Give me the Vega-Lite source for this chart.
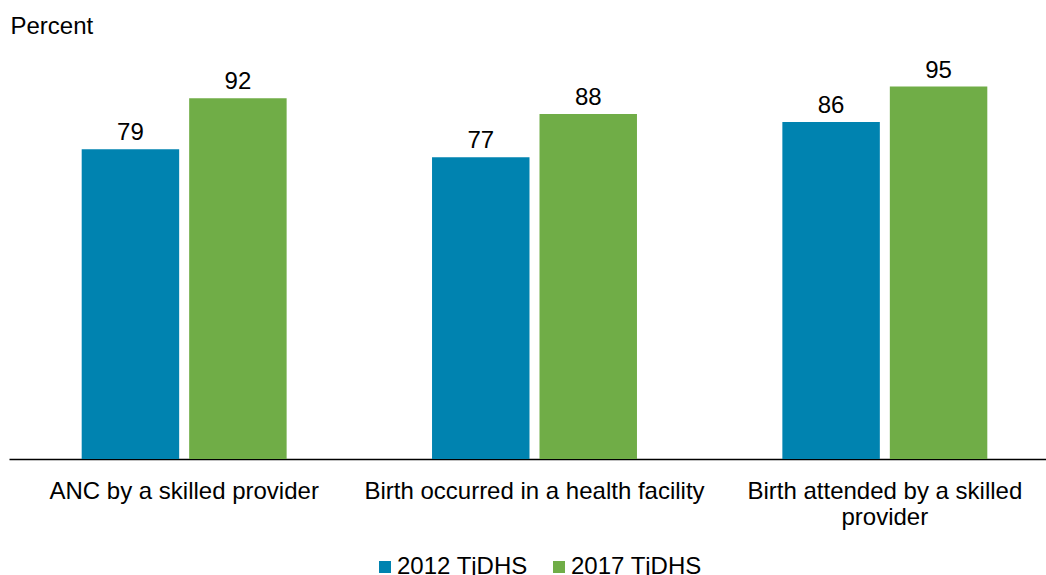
{
  "$schema": "https://vega.github.io/schema/vega-lite/v6.json",
  "width": 1037,
  "height": 392,
  "autosize": "none",
  "padding": {"left": 9, "top": 67, "right": 0, "bottom": 116},
  "config": {"view": {"stroke": null}, "font": "Liberation Sans"},
  "data": {
    "values": [
      {"category": "ANC by a skilled provider", "survey": "2012 TjDHS", "value": 79},
      {"category": "ANC by a skilled provider", "survey": "2017 TjDHS", "value": 92},
      {"category": "Birth occurred in a health facility", "survey": "2012 TjDHS", "value": 77},
      {"category": "Birth occurred in a health facility", "survey": "2017 TjDHS", "value": 88},
      {"category": "Birth attended by a skilled provider", "survey": "2012 TjDHS", "value": 86},
      {"category": "Birth attended by a skilled provider", "survey": "2017 TjDHS", "value": 95}
    ]
  },
  "encoding": {
    "x": {
      "field": "category",
      "type": "nominal",
      "sort": ["ANC by a skilled provider", "Birth occurred in a health facility", "Birth attended by a skilled provider"],
      "scale": {"range": [0, 1051], "paddingInner": 0.415, "paddingOuter": 0.2075},
      "axis": {
        "title": null,
        "labelAngle": 0,
        "labelFontSize": 24,
        "labelColor": "#000000",
        "labelLimit": 500,
        "ticks": false,
        "domainColor": "#000000",
        "domainWidth": 1.3,
        "labelPadding": 39,
        "labelBaseline": "alphabetic",
        "labelLineHeight": 26,
        "labelExpr": "datum.label == 'Birth attended by a skilled provider' ? ['Birth attended by a skilled', 'provider'] : datum.label"
      }
    },
    "xOffset": {
      "field": "survey",
      "type": "nominal",
      "scale": {"paddingInner": 0.093, "paddingOuter": 0}
    },
    "y": {
      "field": "value",
      "type": "quantitative",
      "scale": {"domain": [0, 100]},
      "axis": {
        "title": "Percent",
        "labels": false,
        "ticks": false,
        "domain": false,
        "grid": false,
        "titleAngle": 0,
        "titleAlign": "left",
        "titleBaseline": "alphabetic",
        "titleX": 1,
        "titleY": -34,
        "titleFontSize": 24,
        "titleFontWeight": "normal",
        "titleColor": "#000000"
      }
    }
  },
  "layer": [
    {
      "mark": {"type": "bar"},
      "encoding": {
        "color": {
          "field": "survey",
          "type": "nominal",
          "scale": {"domain": ["2012 TjDHS", "2017 TjDHS"], "range": ["#0083b0", "#70ad47"]},
          "legend": {
            "title": null,
            "orient": "none",
            "legendX": 364,
            "legendY": 488,
            "direction": "horizontal",
            "symbolType": "square",
            "symbolSize": 144,
            "symbolStrokeWidth": 0,
            "symbolOpacity": 1,
            "labelFontSize": 24,
            "labelColor": "#000000",
            "labelOffset": 0,
            "columnPadding": 19,
            "padding": 0
          }
        }
      }
    },
    {
      "mark": {"type": "text", "dy": -9, "baseline": "alphabetic", "fontSize": 24, "color": "#000000"},
      "encoding": {"text": {"field": "value", "type": "quantitative"}}
    }
  ]
}
